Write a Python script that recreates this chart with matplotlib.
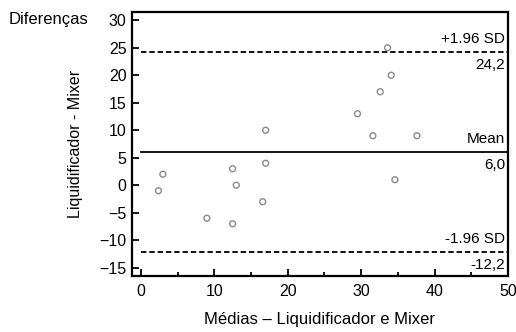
import matplotlib.pyplot as plt
import numpy as np

plt.rcParams['font.family'] = ['Liberation Sans', 'DejaVu Sans']

# means (x) and differences (y)
medias = [2.4, 3.0, 9.0, 12.5, 12.5, 13.0, 16.6, 17.0, 17.0,
          29.5, 31.6, 32.6, 33.6, 34.1, 34.6, 37.6]
diferencas = [-1, 2, -6, 3, -7, 0, -3, 4, 10,
              13, 9, 17, 25, 20, 1, 9]
mean_diff = 6.0
upper = 24.2
lower = -12.2

fig = plt.figure(figsize=(5.16, 3.32), dpi=100)
ax = fig.add_axes([0.2558, 0.1687, 0.7287, 0.7952])

ax.scatter(medias, diferencas, s=18, facecolors='none', edgecolors='#8a8a8a', linewidths=1.0, zorder=3)

ax.plot([0, 50], [mean_diff, mean_diff], color='black', lw=1.3)
ax.plot([0, 50], [upper, upper], color='black', lw=1.3, ls=(0, (3, 1.6)))
ax.plot([0, 50], [lower, lower], color='black', lw=1.3, ls=(0, (3, 1.6)))

fs = 11
ax.text(49.6, upper + 1.1, '+1.96 SD', ha='right', va='bottom', fontsize=fs)
ax.text(49.6, upper - 1.1, '24,2', ha='right', va='top', fontsize=fs)
ax.text(49.6, mean_diff + 1.1, 'Mean', ha='right', va='bottom', fontsize=fs)
ax.text(49.6, mean_diff - 1.1, '6,0', ha='right', va='top', fontsize=fs)
ax.text(49.6, lower + 1.1, '-1.96 SD', ha='right', va='bottom', fontsize=fs)
ax.text(49.6, lower - 1.1, '-12,2', ha='right', va='top', fontsize=fs)

ax.set_xlim(-1.2, 50)
ax.set_ylim(-16.5, 31.5)
ax.set_xticks(np.arange(0, 51, 10))
ax.set_xticks(np.arange(5, 50, 10), minor=True)
ax.set_yticks(np.arange(-15, 31, 5))
ax.tick_params(direction='in', length=5, width=1.3, labelsize=11.5, pad=4)
ax.tick_params(axis='x', pad=6)
ax.tick_params(which='minor', direction='in', length=3, width=1.3)
for s in ax.spines.values():
    s.set_linewidth(1.6)

ax.set_xlabel('Médias – Liquidificador e Mixer', fontsize=12, labelpad=9)
ax.set_ylabel('Liquidificador - Mixer', fontsize=11.5, labelpad=12)
fig.text(0.017, 0.94, 'Diferenças', fontsize=12, va='center', ha='left')

fig.savefig('out.png', dpi=100)
